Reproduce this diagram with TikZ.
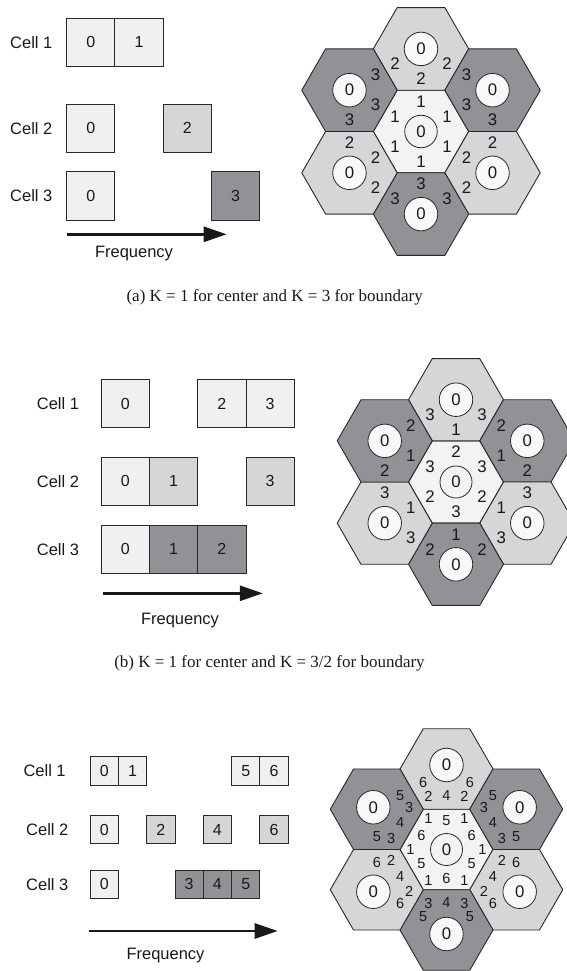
\documentclass[tikz,border=0pt]{standalone}
\usepackage{fontspec}
\setmainfont{Liberation Sans}
\newfontfamily\capserif{Liberation Serif}
\usepackage{tikz}
\usetikzlibrary{shapes.geometric, arrows.meta, positioning}
\definecolor{paleshade}{RGB}{240,240,241}
\definecolor{hexcore}{RGB}{243,243,243}
\definecolor{ringfill}{RGB}{248,248,248}
\definecolor{midshade}{RGB}{213,214,216}
\definecolor{darkshade}{RGB}{145,146,149}
\definecolor{edgegray}{RGB}{40,40,40}
\definecolor{inkgray}{RGB}{25,25,25}
\newcommand{\lblfont}{\fontsize{16.5}{19}\selectfont}
\newcommand{\digfont}{\fontsize{16}{18}\selectfont}
\newcommand{\hexfont}{\fontsize{16.8}{19}\selectfont}
\newcommand{\tinyhexfont}{\fontsize{14.5}{16}\selectfont}
\newcommand{\capfont}{\capserif\fontsize{17}{20}\selectfont}
\tikzset{
    cellbox/.style={rectangle, draw=edgegray, line width=0.9pt, minimum width=48.3pt, minimum height=48.3pt,
                    inner sep=0pt, outer sep=0pt, text=inkgray, font=\digfont},
    palebox/.style={cellbox, fill=paleshade},
    midbox/.style={cellbox, fill=midshade},
    darkbox/.style={cellbox, fill=darkshade},
    smallbox/.style={minimum width=28.3pt, minimum height=28.3pt},
    celllabel/.style={anchor=west, inner sep=0pt, text=inkgray, font=\lblfont},
    hexcell/.style={regular polygon, regular polygon sides=6, draw=edgegray, line width=0.9pt,
                    inner sep=0pt, outer sep=0pt},
    hexpale/.style={hexcell, fill=hexcore},
    hexmid/.style={hexcell, fill=midshade},
    hexdark/.style={hexcell, fill=darkshade},
    reuse/.style={circle, draw=edgegray, line width=0.8pt, fill=ringfill, minimum size=33.5pt,
                  inner sep=0pt, text=inkgray, font=\hexfont},
    num/.style={inner sep=0pt, text=inkgray, font=\hexfont},
    tinynum/.style={num, font=\tinyhexfont},
    freqarrow/.style={line width=2.8pt, draw=inkgray, -{Triangle[length=23pt, width=15pt]}},
    caption/.style={inner sep=0pt, text=inkgray, font=\capfont}
}

\begin{document}
\begin{tikzpicture}[x=1pt, y=1pt]
    \useasboundingbox (0,0) rectangle (566,-971);

    % (a) Spectrum
    \node[celllabel] (a1-lbl) at (10,-42.2) {Cell 1};
    \node[celllabel] (a2-lbl) at (10,-128.3) {Cell 2};
    \node[celllabel] (a3-lbl) at (10,-196) {Cell 3};
    \node[palebox] (a1-0) at (90.7,-42.2) {0};
    \node[palebox, right=0pt of a1-0] (a1-1) {1};
    \node[palebox] (a2-0) at (90.7,-128.3) {0};
    \node[midbox, right=48.3pt of a2-0] (a2-2) {2};
    \node[palebox] (a3-0) at (90.7,-196) {0};
    \node[darkbox, right=96.6pt of a3-0] (a3-3) {3};
    \coordinate (a-fs) at (67.3,-234.3);
    \coordinate (a-fe) at (226.7,-234.3);
    \draw[freqarrow] (a-fs) -- (a-fe);
    \node[num, font=\lblfont] (a-freq) at (134,-253.5) {Frequency};

    % (a) Cells
    \node[hexpale, minimum size=95.4pt] (ha) at (421,-131.5) {};
    \node[reuse, fill=hexcore, minimum size=32.5pt] (ha-o) at (ha.center) {0};
    \foreach \ang [count=\i] in {90,150,...,420}
        \path (ha.center) ++(\ang:30) node[num] (ha-n\i) {1};
    \foreach \nm/\ang/\sty/\val in {ha1/90/hexmid/2, ha2/30/hexdark/3, ha3/330/hexmid/2,
                                    ha4/270/hexdark/3, ha5/210/hexmid/2, ha6/150/hexdark/3} {
        \path (ha.center) ++(\ang:82.6) node[\sty, minimum size=95.4pt] (\nm) {};
        \node[reuse] (\nm-o) at (\nm.center) {0};
        \foreach \k in {120,180,240}
            \path (\nm.center) ++(\ang+\k:30) node[num] (\nm-\k) {\val};
    }
    \node[caption] (a-cap) at (274.7,-297.3) {(a) K = 1 for center and K = 3 for boundary};

    % (b) Spectrum
    \node[celllabel] (b1-lbl) at (36.7,-403.5) {Cell 1};
    \node[celllabel] (b2-lbl) at (36.7,-481.2) {Cell 2};
    \node[celllabel] (b3-lbl) at (36.7,-549.3) {Cell 3};
    \node[palebox] (b1-0) at (125.2,-403.5) {0};
    \node[palebox, right=48.3pt of b1-0] (b1-2) {2};
    \node[palebox, right=0pt of b1-2] (b1-3) {3};
    \node[palebox] (b2-0) at (125.2,-481.2) {0};
    \node[midbox, right=0pt of b2-0] (b2-1) {1};
    \node[midbox, right=48.3pt of b2-1] (b2-3) {3};
    \node[palebox] (b3-0) at (125.2,-549.3) {0};
    \node[darkbox, right=0pt of b3-0] (b3-1) {1};
    \node[darkbox, right=0pt of b3-1] (b3-2) {2};
    \coordinate (b-fs) at (103,-593.3);
    \coordinate (b-fe) at (262.8,-593.3);
    \draw[freqarrow] (b-fs) -- (b-fe);
    \node[num, font=\lblfont] (b-freq) at (180,-620.4) {Frequency};

    % (b) Cells
    \node[hexpale, minimum size=95pt] (hb) at (456,-482) {};
    \node[reuse, fill=hexcore, minimum size=32pt] (hb-o) at (hb.center) {0};
    \foreach \ang/\val [count=\i] in {90/2, 30/3, 330/2, 270/3, 210/2, 150/3}
        \path (hb.center) ++(\ang:30) node[num] (hb-n\i) {\val};
    \foreach \nm/\ang/\sty/\val in {hb1/90/hexmid/3, hb2/30/hexdark/2, hb3/330/hexmid/3,
                                    hb4/270/hexdark/2, hb5/210/hexmid/3, hb6/150/hexdark/2} {
        \path (hb.center) ++(\ang:82.3) node[\sty, minimum size=95pt] (\nm) {};
        \node[reuse] (\nm-o) at (\nm.center) {0};
        \path (\nm.center) ++(\ang+120:30) node[num] (\nm-l) {\val};
        \path (\nm.center) ++(\ang+180:30) node[num] (\nm-m) {1};
        \path (\nm.center) ++(\ang+240:30) node[num] (\nm-r) {\val};
    }
    \node[caption] (b-cap) at (269.5,-663) {(b) K = 1 for center and K = 3/2 for boundary};

    % (c) Spectrum
    \node[celllabel] (c1-lbl) at (23.3,-770.8) {Cell 1};
    \node[celllabel] (c2-lbl) at (26,-829.7) {Cell 2};
    \node[celllabel] (c3-lbl) at (26,-884.2) {Cell 3};
    \node[palebox, smallbox] (c1-0) at (104.2,-770.8) {0};
    \node[palebox, smallbox, right=0pt of c1-0] (c1-1) {1};
    \node[palebox, smallbox, right=84.9pt of c1-1] (c1-5) {5};
    \node[palebox, smallbox, right=0pt of c1-5] (c1-6) {6};
    \node[palebox, smallbox] (c2-0) at (104.2,-829.7) {0};
    \node[midbox, smallbox, right=28.3pt of c2-0] (c2-2) {2};
    \node[midbox, smallbox, right=28.3pt of c2-2] (c2-4) {4};
    \node[midbox, smallbox, right=28.3pt of c2-4] (c2-6) {6};
    \node[palebox, smallbox] (c3-0) at (104.2,-884.2) {0};
    \node[darkbox, smallbox, right=56.6pt of c3-0] (c3-3) {3};
    \node[darkbox, smallbox, right=0pt of c3-3] (c3-4) {4};
    \node[darkbox, smallbox, right=0pt of c3-4] (c3-5) {5};
    \coordinate (c-fs) at (89.3,-931);
    \coordinate (c-fe) at (277.7,-931);
    \draw[freqarrow] (c-fs) -- (c-fe);
    \node[num, font=\lblfont] (c-freq) at (165.5,-956) {Frequency};

    % (c) Cells
    \node[hexpale, minimum size=93pt] (hc) at (446.5,-849.5) {};
    \node[reuse, fill=hexcore, minimum size=32pt] (hc-o) at (hc.center) {0};
    \foreach \ang/\val [count=\i] in {90/5, 30/6, 330/5, 270/6, 210/5, 150/6}
        \path (hc.center) ++(\ang:29) node[tinynum] (hc-n\i) {\val};
    \foreach \ang [count=\i] in {0,60,...,300}
        \path (hc.center) ++(\ang:36) node[tinynum] (hc-v\i) {1};
    \foreach \nm/\ang/\sty/\side/\flank in {hc1/90/hexmid/6/2, hc2/30/hexdark/5/3, hc3/330/hexmid/6/2,
                                            hc4/270/hexdark/5/3, hc5/210/hexmid/6/2, hc6/150/hexdark/5/3} {
        \path (hc.center) ++(\ang:80.5) node[\sty, minimum size=93pt] (\nm) {};
        \path (\nm.center) ++(\ang:4) node[reuse] (\nm-o) {0};
        \path (\nm.center) ++(\ang+120:27) node[tinynum] (\nm-l) {\side};
        \path (\nm.center) ++(\ang+240:27) node[tinynum] (\nm-r) {\side};
        \path (\nm.center) ++(\ang+180:27) node[tinynum] (\nm-m) {4};
        \path (\nm.center) ++(\ang+180:27) ++(\ang+90:18) node[tinynum] (\nm-f1) {\flank};
        \path (\nm.center) ++(\ang+180:27) ++(\ang+270:18) node[tinynum] (\nm-f2) {\flank};
    }
\end{tikzpicture}
\end{document}
